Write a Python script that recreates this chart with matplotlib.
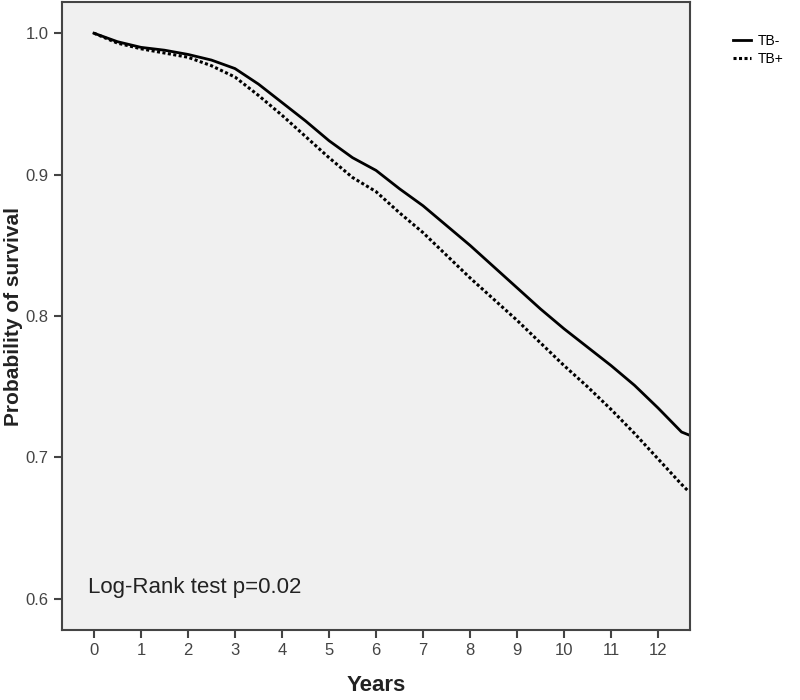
import matplotlib
matplotlib.use("Agg")
import matplotlib.pyplot as plt

# survival estimates (years, probability)
years = [0, 0.5, 1, 1.5, 2, 2.5, 3, 3.5, 4, 4.5, 5, 5.5, 6, 6.5, 7, 7.5,
         8, 8.5, 9, 9.5, 10, 10.5, 11, 11.5, 12, 12.5, 12.65]
tb_neg = [1.000, 0.994, 0.990, 0.988, 0.985, 0.981, 0.975, 0.964, 0.951, 0.938,
          0.924, 0.912, 0.903, 0.890, 0.878, 0.864, 0.850, 0.835, 0.820, 0.805,
          0.791, 0.778, 0.765, 0.751, 0.735, 0.718, 0.716]
tb_pos = [1.000, 0.993, 0.989, 0.986, 0.983, 0.977, 0.969, 0.956, 0.942, 0.927,
          0.912, 0.898, 0.888, 0.873, 0.859, 0.843, 0.827, 0.812, 0.797, 0.781,
          0.765, 0.750, 0.734, 0.717, 0.699, 0.681, 0.676]
x_ticks = list(range(0, 13))
y_ticks = [0.6, 0.7, 0.8, 0.9, 1.0]

plt.rcParams['font.family'] = ['Liberation Sans', 'DejaVu Sans']

fig = plt.figure(figsize=(8, 7), dpi=100)
ax = fig.add_axes([0.0775, 0.1, 0.785, 0.897])
ax.set_facecolor('#f0f0f0')

ax.plot(years, tb_neg, color='black', lw=2.0, label='TB-')
ax.plot(years, tb_pos, color='black', lw=2.2, linestyle=(0, (1, 0.8)), label='TB+')

ax.set_xlim(-0.68, 12.68)
ax.set_ylim(0.578, 1.022)
ax.set_xticks(x_ticks)
ax.set_yticks(y_ticks)
ax.set_yticklabels(['%.1f' % v for v in y_ticks])

for s in ax.spines.values():
    s.set_color('#444444')
    s.set_linewidth(1.5)
ax.tick_params(axis='both', direction='out', length=6, width=1.5, color='#444444',
               labelcolor='#444444', labelsize=12)

ax.set_xlabel('Years', fontsize=16, fontweight='bold', color='#222222',
              family=['Liberation Sans Narrow', 'Liberation Sans'])
ax.xaxis.set_label_coords(0.5, -0.072)
ax.set_ylabel('Probability of survival', fontsize=15, fontweight='bold', color='#222222')
ax.yaxis.set_label_coords(-0.062, 0.5)

ax.text(-0.13, 0.604, 'Log-Rank test p=0.02', fontsize=16, color='#222222')

fig.legend(loc='upper left', bbox_to_anchor=(0.9, 0.97), frameon=False,
           fontsize=10, handlelength=1.3, handletextpad=0.5, labelspacing=0.3)

fig.savefig('out.png', dpi=100)
